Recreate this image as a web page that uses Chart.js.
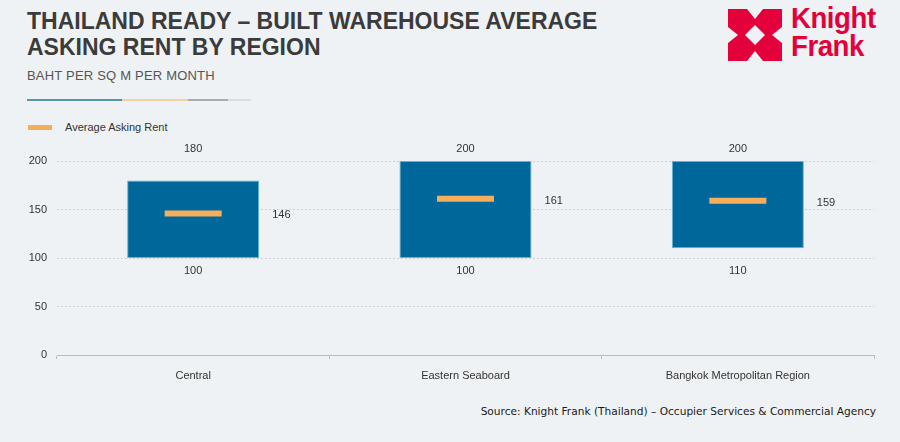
<!DOCTYPE html>
<html>
<head>
<meta charset="utf-8">
<script src="https://cdn.jsdelivr.net/npm/chart.js@4/dist/chart.umd.min.js"></script>
<style>
  html, body { margin: 0; padding: 0; }
  body { width: 900px; height: 442px; background: #eff2f4; position: relative; overflow: hidden; font-family: "Liberation Sans", Arial, sans-serif; }
  #title { position: absolute; left: 27px; top: 8px; font-family: "Liberation Sans", Arial, sans-serif; font-weight: bold; font-size: 23px; line-height: 26px; color: #3b3b3b; letter-spacing: 0px; }
  #subtitle { position: absolute; left: 27px; top: 68px; font-size: 13px; color: #555; letter-spacing: 0.2px; }
  #rule { position: absolute; left: 27px; top: 99px; height: 2px; width: 224px; display: flex; }
  #rule span { display: block; height: 2px; }
  #legend { position: absolute; left: 28px; top: 121px; font-size: 11px; color: #333; display: flex; align-items: center; }
  #legend i { display: inline-block; width: 24px; height: 5px; background: #f6ae5a; margin-right: 13px; }
  #logo { position: absolute; left: 728px; top: 9px; }
  #logotext { position: absolute; left: 791px; top: 4px; color: #e4003b; font-weight: bold; font-size: 30px; line-height: 28px; transform: scaleX(0.92); transform-origin: left top; letter-spacing: -0.5px; }
  #source { position: absolute; right: 24px; top: 405px; font-family: "DejaVu Sans", sans-serif; font-size: 10.6px; color: #1a1a1a; }
  #chart { position: absolute; left: 0; top: 0; }
</style>
</head>
<body>
<div id="title">THAILAND READY – BUILT WAREHOUSE AVERAGE<br>ASKING RENT BY REGION</div>
<div id="subtitle">BAHT PER SQ M PER MONTH</div>
<div id="rule"><span style="width:95px;background:#5a93ad"></span><span style="width:66px;background:#f3cfa6"></span><span style="width:40px;background:#a9abad"></span><span style="width:23px;background:#d9dbdc"></span></div>
<div id="legend"><i></i>Average Asking Rent</div>
<svg id="logo" width="54" height="52" viewBox="0 0 54 52">
  <rect x="0" y="0" width="54" height="52" fill="#e4003b"/>
  <polygon points="27,16 37,26 27,36 17,26" fill="#eff2f4"/>
  <polygon points="19,0 35,0 27,10" fill="#eff2f4"/>
  <polygon points="19,52 35,52 27,42" fill="#eff2f4"/>
  <polygon points="0,18 0,34 10,26" fill="#eff2f4"/>
  <polygon points="54,18 54,34 44,26" fill="#eff2f4"/>
</svg>
<div id="logotext">Knight<br>Frank</div>
<div id="source">Source: Knight Frank (Thailand) – Occupier Services &amp; Commercial Agency</div>
<canvas id="chart" width="900" height="442"></canvas>
<script>
const categories = ['Central', 'Eastern Seaboard', 'Bangkok Metropolitan Region'];
const rangeLow = [100, 100, 110];
const rangeHigh = [180, 200, 200];
const avgRent = [146, 161, 159];
const yTicks = [0, 50, 100, 150, 200];

const labelPlugin = {
  id: 'valueLabels',
  afterDatasetsDraw(chart) {
    const ctx = chart.ctx;
    const y = chart.scales.y;
    const barMeta = chart.getDatasetMeta(0);
    const topY = y.getPixelForValue(Math.max(...rangeHigh)) - 12;
    const botY = y.getPixelForValue(Math.min(...rangeLow)) + 13;
    ctx.save();
    ctx.font = '11px "Liberation Sans", Arial, sans-serif';
    ctx.fillStyle = '#333';
    ctx.textBaseline = 'middle';
    barMeta.data.forEach((bar, i) => {
      ctx.textAlign = 'center';
      ctx.fillText(String(rangeHigh[i]), bar.x, topY);
      ctx.fillText(String(rangeLow[i]), bar.x, botY);
      ctx.textAlign = 'left';
      ctx.fillText(String(avgRent[i]), bar.x + bar.width / 2 + 13, y.getPixelForValue(avgRent[i]) + 2);
    });
    ctx.restore();
  }
};

new Chart(document.getElementById('chart'), {
  data: {
    labels: categories,
    datasets: [
      {
        type: 'bar',
        label: 'Range',
        data: categories.map((c, i) => [rangeLow[i], rangeHigh[i]]),
        backgroundColor: '#00679a',
        borderColor: '#5ab6dc',
        borderWidth: 1,
        borderSkipped: false,
        categoryPercentage: 1,
        barPercentage: 0.485,
        order: 2
      },
      {
        type: 'line',
        label: 'Average Asking Rent',
        data: avgRent,
        showLine: false,
        pointStyle: 'line',
        pointRadius: 28.5,
        pointHoverRadius: 28.5,
        pointBorderWidth: 6,
        pointHoverBorderWidth: 6,
        pointBorderColor: '#f6ae5a',
        borderColor: '#f6ae5a',
        backgroundColor: '#f6ae5a',
        clip: false,
        order: 1
      }
    ]
  },
  options: {
    responsive: false,
    animation: false,
    events: [],
    layout: { autoPadding: false, padding: { top: 161, left: 0, right: 26, bottom: 0 } },
    plugins: { legend: { display: false }, tooltip: { enabled: false } },
    scales: {
      x: {
        afterFit(s) { s.height = 87; s.paddingLeft = 0; s.paddingRight = 0; },
        grid: { drawOnChartArea: false, drawTicks: true, tickLength: 4, color: '#b9bcbf', offset: true },
        border: { display: true, color: '#b9bcbf', width: 1 },
        ticks: { color: '#333', padding: 10, font: { family: '"Liberation Sans", Arial, sans-serif', size: 11 } }
      },
      y: {
        min: 0,
        max: 200,
        afterFit(s) { s.width = 57; s.paddingTop = 0; s.paddingBottom = 0; },
        afterBuildTicks(s) { s.ticks = yTicks.map(v => ({ value: v })); },
        grid: { drawTicks: false, color: (c) => (c.tick && c.tick.value === 0) ? 'rgba(0,0,0,0)' : '#cdd1d5', lineWidth: 1 },
        border: { display: false, dash: [2, 2] },
        ticks: { color: '#333', padding: 10, font: { family: '"Liberation Sans", Arial, sans-serif', size: 11 } }
      }
    }
  },
  plugins: [labelPlugin]
});
</script>
</body>
</html>
